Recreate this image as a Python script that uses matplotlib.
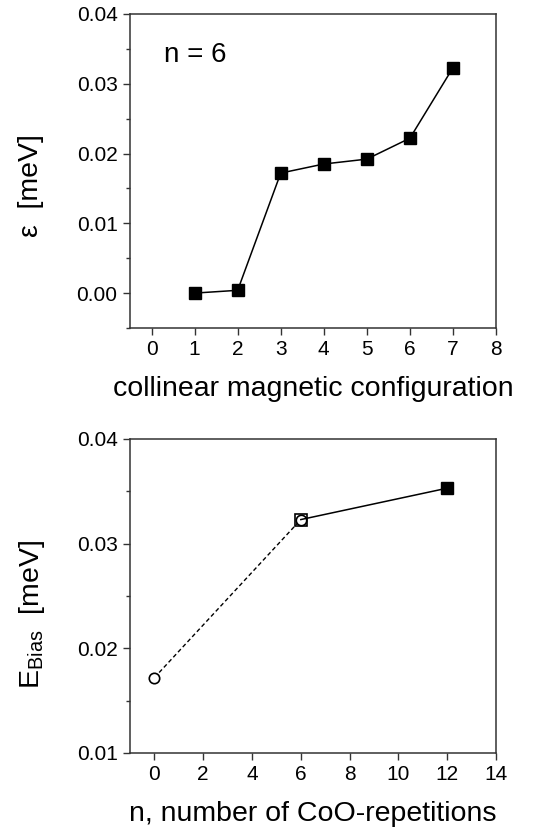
import numpy as np
import matplotlib.pyplot as plt
from matplotlib.ticker import MultipleLocator

plt.rcParams['font.family'] = ['Liberation Sans', 'DejaVu Sans']
plt.rcParams['mathtext.fontset'] = 'custom'
plt.rcParams['mathtext.rm'] = 'Liberation Sans'

# top panel: energy of each collinear configuration (n = 6)
config = [1, 2, 3, 4, 5, 6, 7]
eps = [0.0000, 0.0004, 0.0172, 0.0185, 0.0192, 0.0222, 0.0323]

# bottom panel: bias energy vs. number of CoO repetitions
n_open = [0, 6]
ebias_open = [0.0172, 0.0323]
n_solid = [6, 12]
ebias_solid = [0.0323, 0.0353]

fig = plt.figure(figsize=(5.42, 8.27), dpi=100)
ax1 = fig.add_axes([0.2399, 0.6034, 0.6753, 0.3797])
ax2 = fig.add_axes([0.2399, 0.0895, 0.6753, 0.3797])

for ax in (ax1, ax2):
    for s in ax.spines.values():
        s.set_linewidth(1.1)
        s.set_color('#333333')
    ax.tick_params(which='both', direction='out', top=False, right=False,
                   labelsize=15, color='#333333', width=1.0, pad=4)
    ax.tick_params(which='major', length=5)
    ax.tick_params(which='minor', length=3)

# ---- top
ax1.plot(config, eps, color='black', lw=1.1, marker='s', ms=8.5,
         mfc='black', mec='black')
ax1.set_xlim(-0.5, 8)
ax1.set_ylim(-0.005, 0.04)
ax1.xaxis.set_major_locator(MultipleLocator(1))
ax1.yaxis.set_major_locator(MultipleLocator(0.01))
ax1.yaxis.set_minor_locator(MultipleLocator(0.005))
ax1.yaxis.set_major_formatter(plt.FormatStrFormatter('%.2f'))
ax1.set_xlabel('collinear magnetic configuration', fontsize=20.5, labelpad=12)
ax1.set_ylabel('\u03b5  [meV]', fontsize=20.5)
ax1.yaxis.set_label_coords(-0.236, 0.452)
ax1.text(0.3, 0.0341, 'n = 6', fontsize=20, va='center', ha='left')

# ---- bottom
ax2.plot(n_open, ebias_open, color='black', lw=1.0, ls=(0, (3, 2)),
         marker='o', ms=7.5, mfc='white', mec='black', mew=1.2)
ax2.plot(n_solid, ebias_solid, color='black', lw=1.1, zorder=3)
ax2.plot(n_solid[:1], ebias_solid[:1], ls='none', marker='s', ms=8,
         mfc='none', mec='black', mew=1.2, zorder=4)
ax2.plot(n_solid[1:], ebias_solid[1:], ls='none', marker='s', ms=8.5,
         mfc='black', mec='black', zorder=4)
ax2.set_xlim(-1, 14)
ax2.set_ylim(0.01, 0.04)
ax2.xaxis.set_major_locator(MultipleLocator(2))
ax2.yaxis.set_major_locator(MultipleLocator(0.01))
ax2.yaxis.set_minor_locator(MultipleLocator(0.005))
ax2.yaxis.set_major_formatter(plt.FormatStrFormatter('%.2f'))
ax2.set_xlabel('n, number of CoO-repetitions', fontsize=20.5, labelpad=12)
ax2.set_ylabel('E$_\\mathregular{Bias}$  [meV]', fontsize=20.5)
ax2.yaxis.set_label_coords(-0.226, 0.441)

fig.savefig('out.png', dpi=100)
